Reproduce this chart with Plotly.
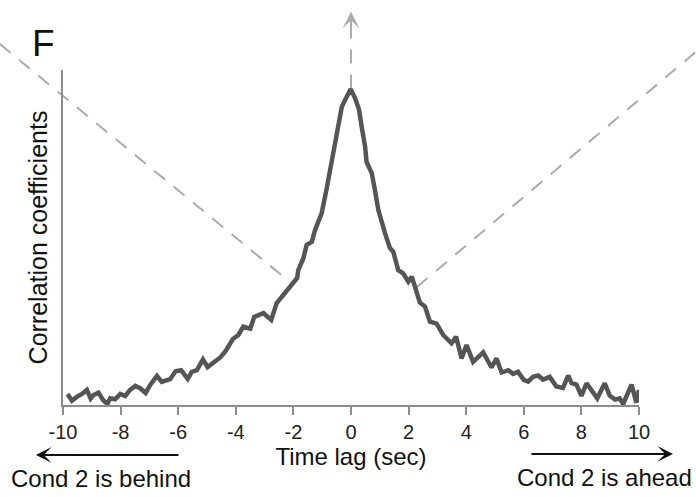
import plotly.graph_objects as go

# ---- data ----
lag_sec = [-9.84, -9.69, -9.51, -9.34, -9.17, -9.04, -8.94, -8.77, -8.61, -8.46,
           -8.36, -8.19, -8.01, -7.84, -7.67, -7.49, -7.32, -7.13, -6.97, -6.74,
           -6.57, -6.28, -6.09, -5.90, -5.67, -5.53, -5.35, -5.14, -4.98, -4.75,
           -4.54, -4.37, -4.10, -3.91, -3.74, -3.50, -3.36, -3.04, -2.77, -2.58,
           -2.23, -2.03, -1.87, -1.83, -1.65, -1.54, -1.36, -1.25, -1.02, -0.84,
           -0.67, -0.50, -0.32, -0.15, -0.01, 0.14, 0.28, 0.37, 0.49, 0.54,
           0.72, 0.83, 0.95, 1.18, 1.35, 1.47, 1.64, 1.81, 1.99, 2.11,
           2.22, 2.39, 2.57, 2.74, 2.97, 3.20, 3.49, 3.65, 3.84, 4.01,
           4.24, 4.59, 4.88, 5.05, 5.23, 5.46, 5.63, 5.80, 6.00, 6.15,
           6.32, 6.50, 6.67, 6.90, 7.13, 7.36, 7.54, 7.66, 7.83, 8.00,
           8.18, 8.35, 8.55, 8.81, 8.98, 9.17, 9.33, 9.45, 9.74, 9.91, 10.0]
corr = [0.033, 0.013, 0.025, 0.033, 0.045, 0.019, 0.030, 0.037, 0.015, 0.003,
        0.020, 0.017, 0.033, 0.027, 0.045, 0.057, 0.050, 0.036, 0.060, 0.087,
        0.069, 0.077, 0.101, 0.104, 0.078, 0.099, 0.104, 0.136, 0.113, 0.128,
        0.142, 0.159, 0.197, 0.209, 0.234, 0.228, 0.263, 0.274, 0.254, 0.304,
        0.343, 0.363, 0.379, 0.403, 0.439, 0.478, 0.487, 0.522, 0.572, 0.648,
        0.731, 0.801, 0.890, 0.920, 0.943, 0.916, 0.881, 0.831, 0.771, 0.726,
        0.692, 0.642, 0.582, 0.513, 0.469, 0.457, 0.403, 0.393, 0.368, 0.383,
        0.353, 0.306, 0.294, 0.249, 0.243, 0.209, 0.184, 0.204, 0.139, 0.179,
        0.129, 0.157, 0.112, 0.139, 0.097, 0.104, 0.093, 0.099, 0.075, 0.070,
        0.084, 0.088, 0.076, 0.084, 0.055, 0.051, 0.088, 0.065, 0.061, 0.027,
        0.065, 0.042, 0.020, 0.065, 0.028, 0.016, 0.020, 0.003, 0.061, 0.007, 0.045]

x_ticks = [-10, -8, -6, -4, -2, 0, 2, 4, 6, 8, 10]
x_tick_labels = ["-10", "-8", "-6", "-4", "-2", "0", "2", "4", "6", "8", "10"]

# guide lines (data units: [x0, y0, x1, y1])
left_guide = [-12.2, 1.078, -2.12, 0.367]
right_guide = [2.29, 0.352, 11.97, 1.054]
peak_arrow = [0.0, 0.945, 0.0, 1.174]

X_RANGE = [-10, 10]
Y_RANGE = [0, 1]


def fx(v):
    return (v - X_RANGE[0]) / (X_RANGE[1] - X_RANGE[0])


def fy(v):
    return (v - Y_RANGE[0]) / (Y_RANGE[1] - Y_RANGE[0])


FONT = "Liberation Sans, Arial, sans-serif"
AXIS_COLOR = "#8c8c8c"
GUIDE_COLOR = "#ababab"

fig = go.Figure()
fig.add_trace(go.Scatter(x=lag_sec, y=corr, mode="lines",
                         line=dict(color="#555555", width=4.5),
                         showlegend=False, hoverinfo="skip"))

shapes = []
for g in (left_guide, right_guide):
    shapes.append(dict(type="line", xref="paper", yref="paper",
                       x0=fx(g[0]), y0=fy(g[1]), x1=fx(g[2]), y1=fy(g[3]),
                       line=dict(color=GUIDE_COLOR, width=2, dash="14px,11px"),
                       layer="below"))
shapes.append(dict(type="line", xref="paper", yref="paper",
                   x0=fx(peak_arrow[0]), y0=fy(peak_arrow[1]),
                   x1=fx(peak_arrow[2]), y1=fy(peak_arrow[3]) - 0.04,
                   line=dict(color=GUIDE_COLOR, width=2, dash="14px,11px"),
                   layer="below"))

annotations = [
    dict(xref="paper", yref="paper", x=fx(peak_arrow[2]), y=fy(peak_arrow[3]),
         text="", showarrow=True, arrowhead=3, arrowsize=1.4, arrowwidth=2,
         arrowcolor=GUIDE_COLOR, ax=0, ay=16),
    dict(xref="paper", yref="paper", x=-0.033, y=1.078, text="F",
         showarrow=False, font=dict(family=FONT, size=37, color="#111111"),
         xanchor="center", yanchor="middle"),
    # left arrow
    dict(xref="paper", yref="paper", x=-0.047, y=-0.149, text="",
         showarrow=True, arrowhead=3, arrowsize=1.3, arrowwidth=2,
         arrowcolor="#111111", ax=144, ay=0),
    dict(xref="paper", yref="paper", x=-0.094, y=-0.22, text="Cond 2 is behind",
         showarrow=False, font=dict(family=FONT, size=24, color="#111111"),
         xanchor="left", yanchor="middle"),
    # right arrow
    dict(xref="paper", yref="paper", x=1.096, y=-0.215, text="Cond 2 is ahead",
         showarrow=False, font=dict(family=FONT, size=24, color="#111111"),
         xanchor="right", yanchor="middle"),
    dict(xref="paper", yref="paper", x=1.059, y=-0.146, text="",
         showarrow=True, arrowhead=3, arrowsize=1.3, arrowwidth=2,
         arrowcolor="#111111", ax=-143, ay=0),
]

fig.update_layout(
    width=696, height=497,
    margin=dict(l=63, r=57, t=70, b=92, autoexpand=False),
    paper_bgcolor="white", plot_bgcolor="white",
    font=dict(family=FONT, color="#1a1a1a"),
    shapes=shapes, annotations=annotations,
    xaxis=dict(range=X_RANGE, tickmode="array", tickvals=x_ticks,
               ticktext=x_tick_labels, ticks="outside", ticklen=8,
               tickwidth=1.5, tickcolor=AXIS_COLOR, showline=True,
               linecolor=AXIS_COLOR, linewidth=1.5, showgrid=False,
               zeroline=False, tickfont=dict(size=20, color="#222222"),
               title=dict(text="Time lag (sec)", standoff=6,
                          font=dict(size=24, color="#111111"))),
    yaxis=dict(range=Y_RANGE, showticklabels=False, ticks="",
               showline=True, linecolor=AXIS_COLOR, linewidth=1.5,
               showgrid=False, zeroline=False,
               title=dict(text="Correlation coefficients", standoff=7,
                          font=dict(size=25, color="#111111"))),
)

fig.write_html("out.html")
